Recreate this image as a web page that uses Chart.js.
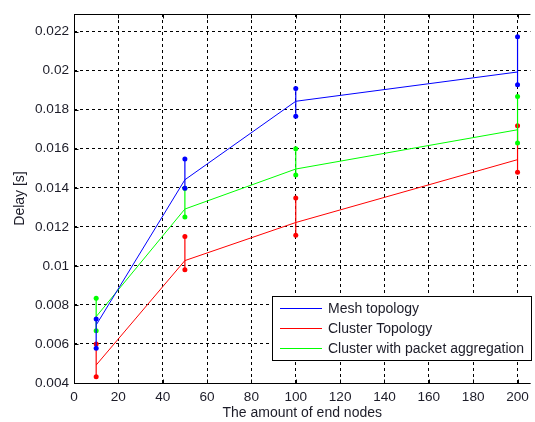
<!DOCTYPE html>
<html>
<head>
<meta charset="utf-8">
<script src="https://cdn.jsdelivr.net/npm/chart.js@4/dist/chart.umd.min.js"></script>
<style>
  html, body { margin: 0; padding: 0; background: #fff; }
  canvas { display: block; }
</style>
</head>
<body>
<canvas id="delay" width="535" height="422"></canvas>
<script>
'use strict';

// number of end nodes at each measurement
const NODES = [10, 50, 100, 200];

// mean, minimum and maximum delay [s] per topology
const MESH_MEAN = [0.00697, 0.01441, 0.01843, 0.01993];
const MESH_MIN = [0.00578, 0.01398, 0.01766, 0.01928];
const MESH_MAX = [0.00728, 0.01547, 0.01908, 0.02173];

const CLUSTER_MEAN = [0.00492, 0.01027, 0.01222, 0.01544];
const CLUSTER_MIN = [0.00432, 0.00980, 0.01157, 0.01479];
const CLUSTER_MAX = [0.00600, 0.01150, 0.01347, 0.01718];

const AGGR_MEAN = [0.00740, 0.01291, 0.01496, 0.01697];
const AGGR_MIN = [0.00668, 0.01250, 0.01465, 0.01629];
const AGGR_MAX = [0.00834, 0.01398, 0.01600, 0.01867];

const LABELS = ['Mesh topology', 'Cluster Topology', 'Cluster with packet aggregation'];

const X_TICKS = [0, 20, 40, 60, 80, 100, 120, 140, 160, 180, 200];
const Y_TICKS = [0.004, 0.006, 0.008, 0.01, 0.012, 0.014, 0.016, 0.018, 0.02, 0.022];

const AZUL = '#0000ff';
const ROJO = '#ff0000';
const VERDE = '#00ff00';
const FUENTE = "'Liberation Sans', Arial, sans-serif";
const TEXTO = '#1c1c28';

const lineaMedia = (label, medias, color, order) => ({
    label,
    data: NODES.map((x, i) => ({ x, y: medias[i] })),
    borderColor: color,
    backgroundColor: color,
    borderWidth: 1,
    pointRadius: 0,
    tension: 0,
    order,
});

// vertical min-max segment at each node count, broken by null gaps
const barrasError = (label, mins, maxs, color, order) => ({
    label: `${label} (rango)`,
    data: NODES.flatMap((x, i) => [{ x, y: mins[i] }, { x, y: maxs[i] }, { x, y: null }]),
    borderColor: color,
    backgroundColor: color,
    borderWidth: 1.2,
    pointRadius: 2.5,
    pointBorderWidth: 0,
    spanGaps: false,
    tension: 0,
    order,
});

const SERIES = [
    { label: LABELS[0], color: AZUL },
    { label: LABELS[1], color: ROJO },
    { label: LABELS[2], color: VERDE },
];

// marco, marcas hacia dentro y leyenda estilo MATLAB
const marcoPlugin = {
    id: 'marco',
    afterDraw(chart) {
        const { ctx, chartArea: a, scales } = chart;
        ctx.save();
        ctx.strokeStyle = '#000';
        ctx.lineWidth = 1;
        ctx.setLineDash([]);
        const l = Math.round(a.left) + 0.5;
        const t = Math.round(a.top) + 0.5;
        const b = Math.round(a.bottom) + 0.5;
        ctx.beginPath();
        ctx.moveTo(a.right, t);
        ctx.lineTo(l, t);
        ctx.lineTo(l, b);
        ctx.lineTo(a.right, b);
        ctx.stroke();

        const tick = 4;
        ctx.beginPath();
        X_TICKS.forEach((v) => {
            const px = Math.round(scales.x.getPixelForValue(v)) + 0.5;
            ctx.moveTo(px, b); ctx.lineTo(px, b - tick);
            ctx.moveTo(px, t); ctx.lineTo(px, t + tick);
        });
        Y_TICKS.forEach((v) => {
            const py = Math.round(scales.y.getPixelForValue(v)) + 0.5;
            ctx.moveTo(l, py); ctx.lineTo(l + tick, py);
        });
        ctx.stroke();

        // leyenda
        const lx = 272, ly = 296, lw = 259, lh = 64;
        ctx.fillStyle = '#fff';
        ctx.fillRect(lx, ly, lw, lh);
        ctx.strokeRect(lx + 0.5, ly + 0.5, lw, lh);
        ctx.font = `14px ${FUENTE}`;
        ctx.textBaseline = 'middle';
        ctx.textAlign = 'left';
        SERIES.forEach((s, i) => {
            const y = ly + 12.5 + i * 20;
            ctx.strokeStyle = s.color;
            ctx.beginPath();
            ctx.moveTo(lx + 8, y);
            ctx.lineTo(lx + 50, y);
            ctx.stroke();
            ctx.fillStyle = TEXTO;
            ctx.fillText(s.label, lx + 56, y + 0.5);
        });
        ctx.restore();
    },
};

const escala = {
    grid: { color: '#000', lineWidth: 1, drawTicks: false },
    border: { display: false, dash: [3, 3] },
    ticks: { color: TEXTO, font: { family: FUENTE, size: 13.6 } },
};

new Chart(document.getElementById('delay'), {
    type: 'line',
    data: {
        datasets: [
            barrasError(LABELS[0], MESH_MIN, MESH_MAX, AZUL, 1),
            barrasError(LABELS[2], AGGR_MIN, AGGR_MAX, VERDE, 2),
            barrasError(LABELS[1], CLUSTER_MIN, CLUSTER_MAX, ROJO, 3),
            lineaMedia(LABELS[0], MESH_MEAN, AZUL, 4),
            lineaMedia(LABELS[1], CLUSTER_MEAN, ROJO, 5),
            lineaMedia(LABELS[2], AGGR_MEAN, VERDE, 6),
        ],
    },
    options: {
        responsive: false,
        animation: false,
        layout: { padding: { top: 14, right: 0, bottom: 0, left: 0 } },
        plugins: { legend: { display: false }, tooltip: { enabled: false } },
        scales: {
            x: {
                ...escala,
                type: 'linear',
                min: 0,
                max: 205.8,
                afterBuildTicks: (s) => { s.ticks = X_TICKS.map((value) => ({ value })); },
                afterFit: (s) => { s.height = 39; },
                ticks: { ...escala.ticks, padding: 6, maxRotation: 0, callback: (v) => String(v) },
                title: {
                    display: true,
                    text: 'The amount of end nodes',
                    color: TEXTO,
                    font: { family: FUENTE, size: 14 },
                    padding: { top: 0, bottom: 0 },
                },
            },
            y: {
                ...escala,
                min: 0.004,
                max: 0.0229,
                afterBuildTicks: (s) => { s.ticks = Y_TICKS.map((value) => ({ value })); },
                afterFit: (s) => { s.width = 74; },
                ticks: { ...escala.ticks, padding: 5, callback: (v) => String(+v.toFixed(3)) },
                title: {
                    display: true,
                    text: 'Delay [s]',
                    color: TEXTO,
                    font: { family: FUENTE, size: 14 },
                    padding: { top: 12, bottom: 0 },
                },
            },
        },
    },
    plugins: [marcoPlugin],
});
</script>
</body>
</html>
